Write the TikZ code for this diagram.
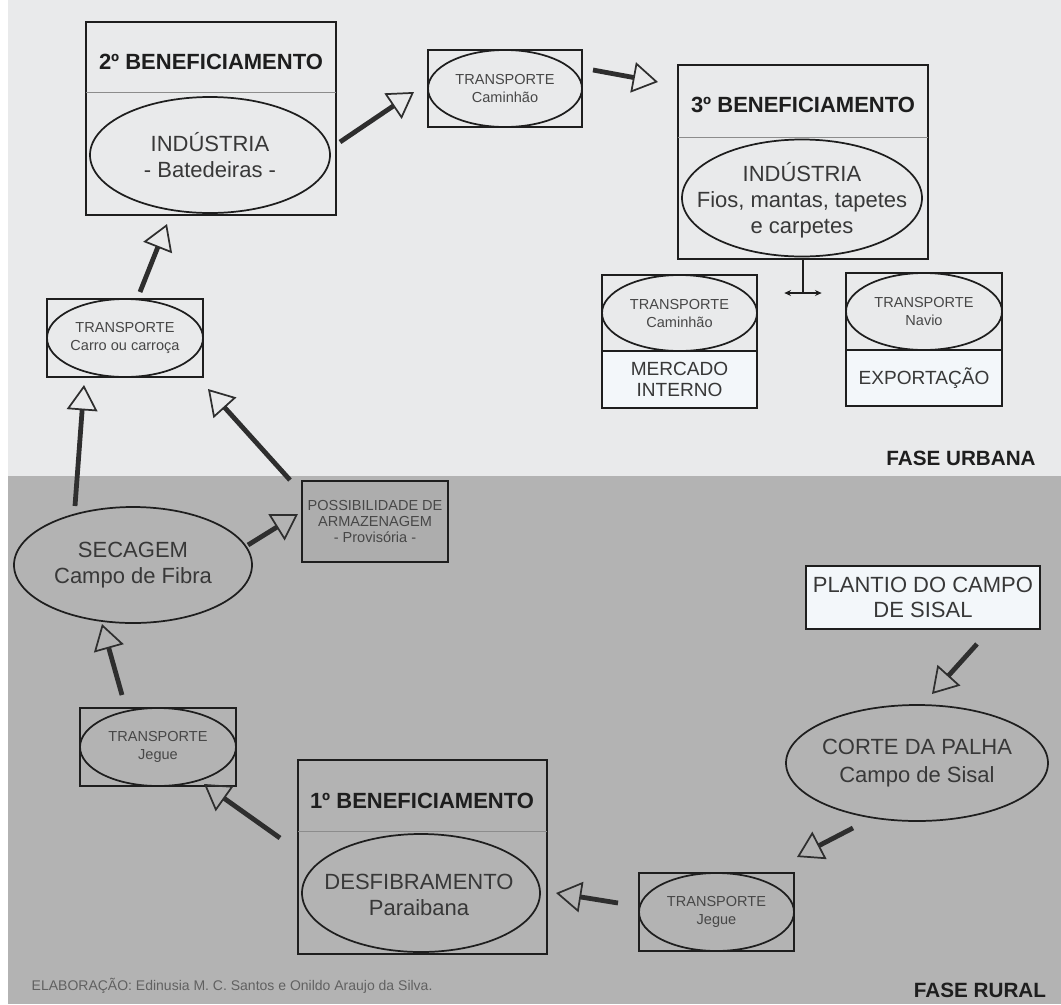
\documentclass[tikz,border=0pt]{standalone}
\usepackage{fontspec}
\setmainfont{Liberation Sans}
\usetikzlibrary{shapes.geometric,arrows.meta}
\definecolor{bglight}{HTML}{E9EAEB}
\definecolor{bgdark}{HTML}{B3B3B3}
\definecolor{boxfill}{HTML}{F3F7FA}
\definecolor{possfill}{HTML}{ADADAD}
\definecolor{ink}{HTML}{1E1E1E}
\definecolor{txt}{HTML}{383838}
\begin{document}
\begin{tikzpicture}[x=0.75pt,y=-0.75pt,
  sz/.style 2 args={minimum width=#1*0.75pt, minimum height=#2*0.75pt},
  frame/.style={draw=ink, line width=1.4pt, rectangle, inner sep=0pt, align=center, text=txt},
  oval/.style={draw=ink, line width=1.3pt, ellipse, inner sep=0pt},
  label/.style={align=center, text=txt, inner sep=0pt},
  divider/.style={draw=black!45, line width=0.5pt},
  title/.style={font=\fontsize{16.5}{19}\selectfont\bfseries, text=ink},
  bigtxt/.style={font=\fontsize{16.5}{20}\selectfont},
  midtxt/.style={font=\fontsize{14.3}{16}\selectfont},
  smalltxt/.style={font=\fontsize{10.9}{13.5}\selectfont, text=black!72},
  fat/.style={draw=black!82, line width=3.6pt, -{Triangle[open, length=19pt, width=23pt, line width=1.3pt]}},
  phase/.style={font=\fontsize{15.5}{18}\selectfont\bfseries, text=ink},
]
\useasboundingbox (0,0) rectangle (1061,1004);
\fill[white] (0,0) rectangle (1061,1004);
\fill[bglight] (8,0) rectangle (1061,476);
\fill[bgdark] (8,476) rectangle (1061,1004);

% 2o beneficiamento
\node[frame, sz={250}{193}] (b2) at (211,118.5) {};
\draw[divider] (86,92) -- (336,92);
\node[title] (b2t) at (211,62) {2º BENEFICIAMENTO};
\node[oval, sz={240}{116}] (e2) at (210,155) {};
\node[label, bigtxt] (e2t) at (e2) {INDÚSTRIA\\- Batedeiras -};

% 3o beneficiamento
\node[frame, sz={250}{194}] (b3) at (803,162) {};
\draw[divider] (678,137) -- (928,137);
\node[title] (b3t) at (803,105) {3º BENEFICIAMENTO};
\node[oval, sz={240}{117}] (e3) at (802,198) {};
\node[label, font=\fontsize{16.5}{19.5}\selectfont] (e3t) at (802,200) {INDÚSTRIA\\Fios, mantas, tapetes\\e carpetes};

% 1o beneficiamento
\node[frame, sz={249}{194}] (b1) at (422.5,857) {};
\draw[divider] (298,831) -- (547,831);
\node[title] (b1t) at (422,801) {1º BENEFICIAMENTO};
\node[oval, sz={238}{118}] (e1) at (421,893) {};
\node[label, bigtxt] (e1t) at (419,895) {DESFIBRAMENTO\\Paraibana};

% transport boxes
\node[frame, sz={154}{77}] (tcam) at (505,88.5) {};
\node[oval, sz={154}{77}] (tcamE) at (505,88.5) {};
\node[label, smalltxt] (tcamT) at (tcamE) {TRANSPORTE\\Caminhão};
\node[frame, sz={156}{78}] (tcar) at (125,338) {};
\node[oval, sz={156}{78}] (tcarE) at (125,338) {};
\node[label, smalltxt] (tcarT) at (tcarE) {TRANSPORTE\\Carro ou carroça};
\node[frame, sz={156}{78}] (tjl) at (158,747) {};
\node[oval, sz={156}{78}] (tjlE) at (158,747) {};
\node[label, smalltxt] (tjlT) at (tjlE) {TRANSPORTE\\Jegue};
\node[frame, sz={155}{78}] (tjr) at (716.5,912) {};
\node[oval, sz={155}{78}] (tjrE) at (716.5,912) {};
\node[label, smalltxt] (tjrT) at (tjrE) {TRANSPORTE\\Jegue};

% mercado interno / exportacao
\node[frame, sz={155}{76}] (tmer) at (679.5,313) {};
\node[oval, sz={155}{76}] (tmerE) at (679.5,313) {};
\node[label, smalltxt] (tmerT) at (tmerE) {TRANSPORTE\\Caminhão};
\node[frame, fill=boxfill, midtxt, sz={155}{57}] (mer) at (679.5,379.5) {MERCADO\\INTERNO};
\node[frame, sz={156}{77}] (texp) at (924,311.5) {};
\node[oval, sz={156}{77}] (texpE) at (924,311.5) {};
\node[label, smalltxt] (texpT) at (texpE) {TRANSPORTE\\Navio};
\node[frame, fill=boxfill, midtxt, sz={156}{56}] (exp) at (924,378) {EXPORTAÇÃO};

% T connector
\coordinate (tj) at (803,293);
\draw[draw=ink, line width=1.3pt] (b3.south) -- (tj);
\draw[draw=ink, line width=1pt, {Stealth[length=5pt,width=4.5pt]}-{Stealth[length=5pt,width=4.5pt]}] ([xshift=-14pt]tj) -- ([xshift=14pt]tj);

% rural elements
\node[frame, fill=boxfill, font=\fontsize{16.5}{19}\selectfont, sz={234}{63}] (plant) at (923,597.5) {PLANTIO DO CAMPO\\DE SISAL};
\node[oval, sz={262}{116}] (corte) at (917,763) {};
\node[label, font=\fontsize{16.5}{21}\selectfont] (corteT) at (corte) {CORTE DA PALHA\\Campo de Sisal};
\node[oval, sz={238}{116}] (sec) at (133,565) {};
\node[label, font=\fontsize{16.5}{19.5}\selectfont] (secT) at (sec) {SECAGEM\\Campo de Fibra};
\node[frame, fill=possfill, font=\fontsize{10.9}{12.3}\selectfont, text=black!72, sz={146}{81}] (poss) at (375,521.5) {POSSIBILIDADE DE\\ARMAZENAGEM\\- Provisória -};

% arrows
\coordinate (a1s) at (340,142);  \coordinate (a1e) at (414,92);
\coordinate (a2s) at (593,70);   \coordinate (a2e) at (658,82);
\coordinate (a3s) at (140,292);  \coordinate (a3e) at (167,224);
\coordinate (a4s) at (75,506);   \coordinate (a4e) at (84,385);
\coordinate (a5s) at (290,480);  \coordinate (a5e) at (208,389);
\coordinate (a6s) at (248,545);  \coordinate (a6e) at (298,514);
\coordinate (a7s) at (122,695);  \coordinate (a7e) at (102,624);
\coordinate (a8s) at (280,838);  \coordinate (a8e) at (204,784);
\coordinate (a9s) at (618,903);  \coordinate (a9e) at (556,893);
\coordinate (a10s) at (853,828); \coordinate (a10e) at (797,857);
\coordinate (a11s) at (977,644); \coordinate (a11e) at (932,694);
\foreach \i in {1,...,11} {\draw[fat] (a\i s) -- (a\i e);}

% labels
\node[phase] (fu) at (961,458) {FASE URBANA};
\node[phase] (fr) at (980,990) {FASE RURAL};
\node[anchor=west, font=\fontsize{10.5}{12}\selectfont, text=black!62] (elab) at (27,986) {ELABORAÇÃO: Edinusia M. C. Santos e Onildo Araujo da Silva.};
\end{tikzpicture}
\end{document}
